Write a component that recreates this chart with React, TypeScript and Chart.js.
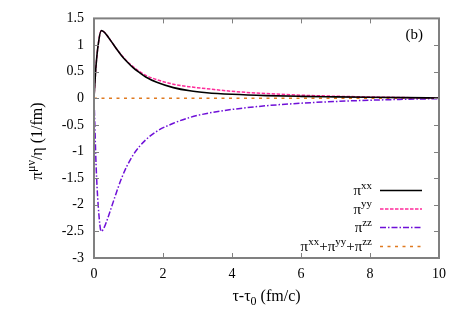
import React, { useEffect, useRef } from 'react';
import { Chart, registerables } from 'chart.js';

Chart.register(...registerables);

// ---- data ----
const tau = [0, 0.02, 0.06, 0.12, 0.21, 0.3, 0.4, 0.52, 0.66, 0.8, 0.95, 1.14, 1.3, 1.5, 1.82, 2.3, 2.78, 3.27, 4.0, 5.0, 6.0, 7.0, 8.0, 9.0, 10];
const piXX = [0, 0.22, 0.62, 1.0, 1.27, 1.24, 1.16, 1.05, 0.92, 0.8, 0.69, 0.57, 0.49, 0.4, 0.3, 0.2, 0.14, 0.105, 0.075, 0.05, 0.036, 0.027, 0.019, 0.012, 0.006];
const piYY = [0, 0.22, 0.62, 1.0, 1.27, 1.24, 1.16, 1.05, 0.92, 0.81, 0.7, 0.59, 0.51, 0.43, 0.35, 0.265, 0.215, 0.18, 0.13, 0.088, 0.058, 0.038, 0.024, 0.013, 0.005];
const piZZ = [0, -0.4, -1.25, -2.0, -2.5, -2.42, -2.25, -2.02, -1.75, -1.5, -1.28, -1.06, -0.92, -0.78, -0.62, -0.47, -0.36, -0.285, -0.21, -0.14, -0.093, -0.06, -0.037, -0.02, -0.007];
const piSum = [0, 0, 0, 0, 0, 0, 0, 0, 0, 0, 0, 0, 0, 0, 0, 0, 0, 0, 0, 0, 0, 0, 0, 0, 0];

const xTicks = [0, 2, 4, 6, 8, 10];
const yTicks = [-3, -2.5, -2, -1.5, -1, -0.5, 0, 0.5, 1, 1.5];

type Part = { t: string; k?: 'sup' | 'sub' };
const legendLabels: Part[][] = [
  [{ t: 'π' }, { t: 'xx', k: 'sup' }],
  [{ t: 'π' }, { t: 'yy', k: 'sup' }],
  [{ t: 'π' }, { t: 'zz', k: 'sup' }],
  [{ t: 'π' }, { t: 'xx', k: 'sup' }, { t: '+π' }, { t: 'yy', k: 'sup' }, { t: '+π' }, { t: 'zz', k: 'sup' }],
];
const xTitle: Part[] = [{ t: 'τ-τ' }, { t: '0', k: 'sub' }, { t: ' (fm/c)' }];
const yTitle: Part[] = [{ t: 'π' }, { t: 'μν', k: 'sup' }, { t: '/η (1/fm)' }];
const panelLabel = '(b)';

const colors = ['#000000', '#ff2a9a', '#6f10d8', '#e07a20'];
const dashes: number[][] = [[], [3.5, 1.5], [6, 2, 1.5, 2], [3, 4.5]];
const widths = [1.6, 1.5, 1.5, 1.5];

const FONT = '"Liberation Serif", "Times New Roman", serif';

function drawRich(ctx: CanvasRenderingContext2D, parts: Part[], x: number, y: number, align: 'left' | 'center' | 'right', base: number) {
  const fontFor = (k?: string) => `${k ? Math.round(base * 0.76) : base}px ${FONT}`;
  let w = 0;
  const ws = parts.map((p) => {
    ctx.font = fontFor(p.k);
    const m = ctx.measureText(p.t).width;
    w += m;
    return m;
  });
  let cx = align === 'left' ? x : align === 'center' ? x - w / 2 : x - w;
  ctx.textAlign = 'left';
  ctx.textBaseline = 'alphabetic';
  parts.forEach((p, i) => {
    ctx.font = fontFor(p.k);
    const dy = p.k === 'sup' ? -base * 0.43 : p.k === 'sub' ? base * 0.25 : 0;
    ctx.fillText(p.t, cx, y + dy);
    cx += ws[i];
  });
}

const decor = {
  id: 'decor',
  afterDatasetsDraw(chart: any) {
    const { ctx, chartArea } = chart;
    const { left, right, top, bottom } = chartArea;
    const xs = chart.scales.x;
    const ys = chart.scales.y;
    ctx.save();
    ctx.strokeStyle = '#808080';
    ctx.lineWidth = 1;
    ctx.setLineDash([]);
    const seg = (a: number, b: number, c: number, d: number) => {
      ctx.beginPath();
      ctx.moveTo(a, b);
      ctx.lineTo(c, d);
      ctx.stroke();
    };
    const tl = 5;
    for (const v of xTicks) {
      const px = Math.round(xs.getPixelForValue(v)) + 0.5;
      seg(px, bottom, px, bottom - tl);
      seg(px, top, px, top + tl);
    }
    for (const v of yTicks) {
      const py = Math.round(ys.getPixelForValue(v)) + 0.5;
      seg(left, py, left + tl, py);
      seg(right, py, right - tl, py);
    }
    ctx.lineWidth = 2;
    ctx.strokeRect(left, top, right - left, bottom - top);

    // legend
    ctx.fillStyle = '#000';
    const textRight = right - 67;
    const sx0 = right - 59;
    const sx1 = right - 17;
    const rows = [bottom - 68, bottom - 49.5, bottom - 31, bottom - 12];
    legendLabels.forEach((parts, i) => {
      const ry = rows[i];
      drawRich(ctx, parts, textRight, ry + 5, 'right', 15);
      ctx.strokeStyle = colors[i];
      ctx.lineWidth = widths[i];
      ctx.setLineDash(dashes[i]);
      seg(sx0, ry + 0.5, sx1, ry + 0.5);
    });
    ctx.setLineDash([]);

    // panel label
    ctx.fillStyle = '#000';
    ctx.font = `15px ${FONT}`;
    ctx.textAlign = 'right';
    ctx.textBaseline = 'alphabetic';
    ctx.fillText(panelLabel, right - 16, top + 21);

    // x title
    drawRich(ctx, xTitle, (left + right) / 2, 301, 'center', 16);

    // y title
    ctx.save();
    ctx.translate(42, (top + bottom) / 2 + 3);
    ctx.rotate(-Math.PI / 2);
    drawRich(ctx, yTitle, 0, 0, 'center', 16);
    ctx.restore();

    ctx.restore();
  },
};

export default function App() {
  const ref = useRef<HTMLCanvasElement | null>(null);
  useEffect(() => {
    document.body.style.margin = '0';
    const canvas = ref.current;
    if (!canvas) return;
    const mk = (data: number[]) => tau.map((t, i) => ({ x: t, y: data[i] }));
    const series = [piXX, piYY, piZZ, piSum];
    const chart = new Chart(canvas, {
      type: 'line',
      data: {
        datasets: series.map((s, i) => ({
          label: `s${i}`,
          data: mk(s),
          borderColor: colors[i],
          borderWidth: widths[i],
          borderDash: dashes[i],
          pointRadius: 0,
          fill: false,
          cubicInterpolationMode: 'monotone' as const,
        })),
      },
      options: {
        animation: false,
        responsive: false,
        devicePixelRatio: 1,
        layout: { padding: { top: 18, right: 24, left: 0, bottom: 0 } },
        plugins: { legend: { display: false }, title: { display: false }, tooltip: { enabled: false } },
        scales: {
          x: {
            type: 'linear',
            min: 0,
            max: 10,
            grid: { display: false, drawTicks: false },
            border: { display: false },
            ticks: { stepSize: 2, color: '#000', font: { family: FONT, size: 14 }, padding: 8, maxRotation: 0 },
            afterFit: (s: any) => {
              s.height = 66;
            },
          },
          y: {
            type: 'linear',
            min: -3,
            max: 1.5,
            grid: { display: false, drawTicks: false },
            border: { display: false },
            ticks: {
              stepSize: 0.5,
              color: '#000',
              font: { family: FONT, size: 14 },
              padding: 10,
              callback: (v: any) => String(v),
            },
            afterFit: (s: any) => {
              s.width = 94;
            },
          },
        },
      },
      plugins: [decor],
    } as any);
    return () => chart.destroy();
  }, []);
  return (
    <div style={{ position: 'absolute', left: 0, top: 0, width: 463, height: 324, background: '#fff' }}>
      <canvas ref={ref} width={463} height={324} style={{ width: 463, height: 324, display: 'block' }} />
    </div>
  );
}
